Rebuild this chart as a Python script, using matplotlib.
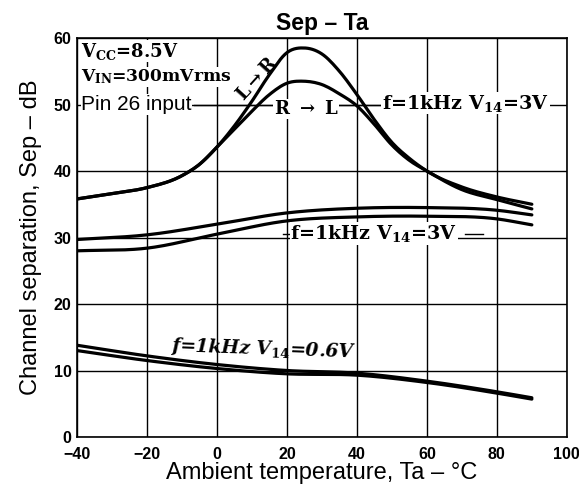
import matplotlib.pyplot as plt
import numpy as np

plt.rcParams['mathtext.fontset'] = 'custom'
plt.rcParams['mathtext.rm'] = 'DejaVu Serif:bold'
plt.rcParams['mathtext.it'] = 'DejaVu Serif:italic:bold'
plt.rcParams['mathtext.bf'] = 'DejaVu Serif:bold'

# Ambient temperature (deg C)
ta_peak = [-40, -30, -20, -10, -5, 0, 5, 10, 15, 20, 25, 30, 35, 40, 45, 50, 55, 60, 70, 80, 90]
sep_l_to_r = [35.8, 36.6, 37.5, 39.3, 41.0, 43.6, 46.8, 50.5, 54.5, 57.8, 58.5, 57.6, 55.0, 51.5, 47.7, 44.3, 41.9, 40.0, 37.6, 36.1, 35.0]
sep_r_to_l = [35.8, 36.6, 37.5, 39.3, 41.0, 43.6, 46.3, 49.0, 51.5, 53.2, 53.5, 53.0, 51.6, 49.8, 47.0, 43.9, 41.6, 40.0, 37.2, 35.7, 34.3]

ta = [-40, -20, 0, 20, 40, 60, 80, 90]
sep_3v_a = [29.7, 30.4, 32.0, 33.7, 34.4, 34.5, 34.1, 33.4]
sep_3v_b = [28.0, 28.4, 30.5, 32.5, 33.1, 33.2, 32.8, 31.9]
sep_06v_a = [13.8, 12.2, 10.9, 10.0, 9.6, 8.4, 6.8, 5.9]
sep_06v_b = [13.0, 11.5, 10.3, 9.5, 9.3, 8.2, 6.6, 5.7]

x_ticks = [-40, -20, 0, 20, 40, 60, 80, 100]
y_ticks = [0, 10, 20, 30, 40, 50, 60]


def smooth(x, y, n=200):
    # cubic hermite through the read points
    x = np.asarray(x, float)
    y = np.asarray(y, float)
    xs = np.linspace(x[0], x[-1], n)
    h = np.diff(x)
    d = np.diff(y) / h
    m = np.zeros_like(y)
    m[1:-1] = (d[:-1] * h[1:] + d[1:] * h[:-1]) / (h[:-1] + h[1:])
    m[0], m[-1] = d[0], d[-1]
    idx = np.clip(np.searchsorted(x, xs) - 1, 0, len(h) - 1)
    t = (xs - x[idx]) / h[idx]
    h00 = 2 * t**3 - 3 * t**2 + 1
    h10 = t**3 - 2 * t**2 + t
    h01 = -2 * t**3 + 3 * t**2
    h11 = t**3 - t**2
    ys = h00 * y[idx] + h10 * h[idx] * m[idx] + h01 * y[idx + 1] + h11 * h[idx] * m[idx + 1]
    return xs, ys


fig = plt.figure(figsize=(5.79, 4.88), dpi=100)
ax = fig.add_axes([0.133, 0.1045, 0.846, 0.8176])

for xv, yv in [(ta_peak, sep_l_to_r), (ta_peak, sep_r_to_l),
               (ta, sep_3v_a), (ta, sep_3v_b),
               (ta, sep_06v_a), (ta, sep_06v_b)]:
    xs, ys = smooth(xv, yv)
    ax.plot(xs, ys, color='black', lw=2.3, solid_capstyle='round', zorder=3)

ax.set_xlim(-40, 100)
ax.set_ylim(0, 60)
ax.set_xticks(x_ticks)
ax.set_yticks(y_ticks)
ax.grid(True, color='black', lw=1.0)
ax.tick_params(length=0)
ax.tick_params(axis='x', pad=7)
ax.tick_params(axis='y', pad=4)
for lab in ax.get_xticklabels() + ax.get_yticklabels():
    lab.set_fontfamily('Liberation Sans')
    lab.set_fontweight('bold')
    lab.set_fontsize(11.5)
for s in ax.spines.values():
    s.set_linewidth(1.2)

ax.set_xlabel('Ambient temperature, Ta \u2013 \u00b0C', family='Liberation Sans', fontsize=17, labelpad=0)
ax.set_ylabel('Channel separation, Sep \u2013 dB', family='Liberation Sans', fontsize=17, labelpad=8)
ax.set_title('Sep \u2013 Ta', family='Liberation Sans', fontweight='bold', fontsize=16.5, pad=6)

serif = dict(family='DejaVu Serif', fontweight='bold', fontsize=13, zorder=5)
wbox = dict(facecolor='white', edgecolor='none', pad=0.5)

ax.text(-38.8, 59.6, r'V$_{\rm CC}$=8.5V', va='top', ha='left', bbox=wbox, **serif)
ax.text(-38.8, 55.6, r'V$_{\rm IN}$=300mVrms', va='top', ha='left', bbox=wbox,
        **dict(serif, fontsize=12.3))
ax.text(-38.8, 50.0, 'Pin 26 input', va='center', ha='left', family='Liberation Sans',
        fontsize=15, bbox=wbox, zorder=5)
ax.plot([-6.5, 16], [50, 50], color='black', lw=1.0, zorder=2)
ax.text(11.4, 53.8, r'L$\rightarrow$R', rotation=48, ha='center', va='center', **serif)
ax.text(25.5, 49.3, r'R $\rightarrow$ L', ha='center', va='center', bbox=wbox, **serif)
ax.plot([33, 47], [50, 50], color='black', lw=1.0, zorder=2)
ax.text(47.2, 50.2, r'f=1kHz V$_{14}$=3V', ha='left', va='center', bbox=wbox,
        **dict(serif, fontsize=13.8))

ax.plot([18.9, 21], [30.6, 30.6], color='black', lw=1.0, zorder=2)
ax.plot([71, 76], [30.6, 30.6], color='black', lw=1.0, zorder=2)
ax.text(21, 30.6, r'f=1kHz V$_{14}$=3V', ha='left', va='center', bbox=wbox,
        **dict(serif, fontsize=13.8))

ax.text(-13.5, 13.2, r'$f$=1$kHz$ V$_{14}$=0.6V', ha='left', va='center', rotation=-2,
        family='DejaVu Serif', fontweight='bold', fontstyle='italic', fontsize=13.5, zorder=5)

fig.savefig('out.png', dpi=100)
